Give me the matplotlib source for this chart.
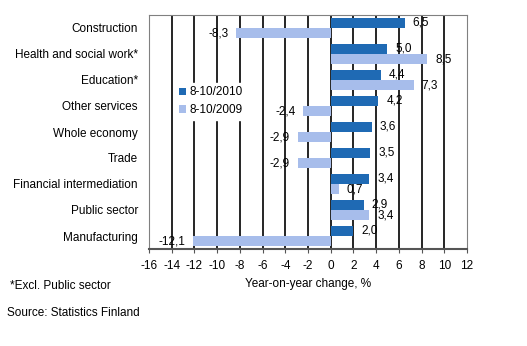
import matplotlib.pyplot as plt
import numpy as np

plt.rcParams['font.family'] = ['Liberation Sans', 'DejaVu Sans']

categories = ['Construction', 'Health and social work*', 'Education*', 'Other services',
              'Whole economy', 'Trade', 'Financial intermediation', 'Public sector',
              'Manufacturing']
vals_2010 = [6.5, 5.0, 4.4, 4.2, 3.6, 3.5, 3.4, 2.9, 2.0]
vals_2009 = [-8.3, 8.5, 7.3, -2.4, -2.9, -2.9, 0.7, 3.4, -12.1]
series_names = ['8-10/2010', '8-10/2009']
xticks = list(range(-16, 13, 2))

c_dark = '#1F6AB4'
c_light = '#A7BDEB'

fig = plt.figure(figsize=(5.27, 3.46), dpi=100)
# plot area in pixels: left 149, right 467, top 15, bottom 249
ax = fig.add_axes([149 / 527, 1 - 249 / 346, 318 / 527, 234 / 346])

y = np.arange(len(categories))
h = 0.385
b1 = ax.barh(y - h / 2, vals_2010, height=h, color=c_dark, label=series_names[0], zorder=3)
b2 = ax.barh(y + h / 2, vals_2009, height=h, color=c_light, label=series_names[1], zorder=3)

ax.set_xlim(-16, 12)
ax.set_ylim(len(categories) - 0.5, -0.5)
ax.set_xticks(xticks)
ax.set_xticklabels([str(t) for t in xticks], fontsize=8.5)
ax.set_yticks(y)
ax.set_yticklabels(categories, fontsize=8.5)
ax.tick_params(axis='y', length=0, pad=8)
ax.tick_params(axis='x', direction='out', length=3, color='#555555', pad=5)

for t in xticks[1:-1]:
    ax.axvline(t, color='black', lw=1.2, zorder=1)

for s in ['left', 'top', 'right']:
    ax.spines[s].set_color('#808080')
ax.spines['bottom'].set_color('#555555')
ax.spines['bottom'].set_linewidth(1.5)

def fmt(v):
    return f'{v:.1f}'.replace('.', ',')

for bars, vals in [(b1, vals_2010), (b2, vals_2009)]:
    for bar, v in zip(bars, vals):
        yc = bar.get_y() + bar.get_height() / 2
        if v >= 0:
            ax.text(v + 0.7, yc, fmt(v), ha='left', va='center', fontsize=8.5, zorder=4)
        else:
            ax.text(v - 0.7, yc, fmt(v), ha='right', va='center', fontsize=8.5, zorder=4)

leg = ax.legend(loc='upper left', bbox_to_anchor=(0.065, 0.735), frameon=True,
                fontsize=8.5, handlelength=0.6, handleheight=0.6, handletextpad=0.3,
                borderpad=0.3, labelspacing=0.5, fancybox=False, edgecolor='white',
                framealpha=1)
leg.set_zorder(5)

ax.set_xlabel('Year-on-year change, %', fontsize=8.5, labelpad=4)

fig.text(10 / 527, 1 - 286 / 346, '*Excl. Public sector', fontsize=8.5, va='center')
fig.text(7 / 527, 1 - 313 / 346, 'Source: Statistics Finland', fontsize=8.5, va='center')

fig.savefig('out.png', dpi=100)
